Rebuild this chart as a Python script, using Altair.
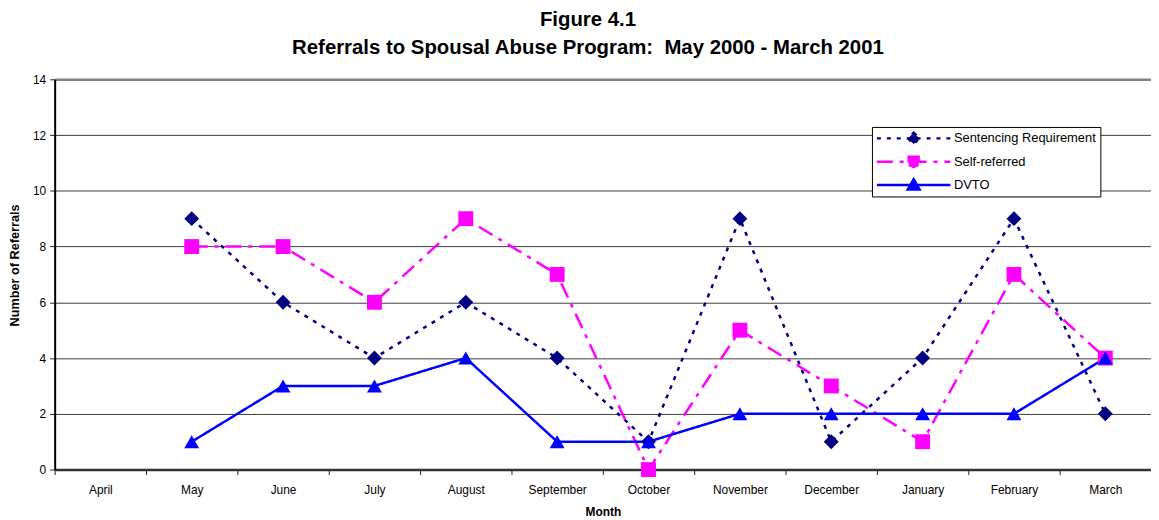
import altair as alt
import pandas as pd

months = ["April", "May", "June", "July", "August", "September", "October",
          "November", "December", "January", "February", "March"]
data_months = months[1:]
series_names = ["Sentencing Requirement", "Self-referred", "DVTO"]
sentencing = [9, 6, 4, 6, 4, 1, 9, 1, 4, 9, 2]
self_referred = [8, 8, 6, 9, 7, 0, 5, 3, 1, 7, 4]
dvto = [1, 3, 3, 4, 1, 1, 2, 2, 2, 2, 4]
y_ticks = [0, 2, 4, 6, 8, 10, 12, 14]

colors = ["#000080", "#FF00FF", "#0000FF"]
dashes = [[4, 6], [16, 7, 4, 7], [1, 0]]
marker_shapes = ["diamond", "square", "triangle-up"]
legend_shapes = [
    "M-1,0H1M0,-0.155L0.155,0L0,0.155L-0.155,0Z",
    "M-1,0H1M-0.135,-0.135H0.135V0.135H-0.135Z",
    "M-1,0H1M0,-0.16L0.16,0.12H-0.16Z",
]

rows = []
for name, vals in zip(series_names, [sentencing, self_referred, dvto]):
    for m, v in zip(data_months, vals):
        rows.append({"Month": m, "Referrals": v, "Series": name})
df = pd.DataFrame(rows)

FONT = "Liberation Sans"
W, H = 1104, 393


def lit(v):
    return "'%s'" % v if isinstance(v, str) else str(v)


def by_series(values, fallback):
    # legend entries carry the series name in datum.value; data marks do not
    expr = lit(fallback)
    for name, v in reversed(list(zip(series_names, values))):
        expr = "datum.value === '%s' ? %s : (%s)" % (name, lit(v), expr)
    return {"expr": expr}


x_enc = alt.X(
    "Month:N",
    sort=months,
    bandPosition=0.5,
    scale=alt.Scale(type="band", domain=months, paddingInner=0, paddingOuter=0),
    axis=alt.Axis(
        title="Month", tickBand="extent", labelAngle=0, labelFontSize=12,
        labelFont=FONT, labelColor="black", labelPadding=10,
        tickSize=5, tickColor="#222", tickWidth=1,
        domainColor="#333", domainWidth=2.5,
        titleFont=FONT, titleFontSize=12, titleFontWeight="bold",
        titleColor="black", titlePadding=11, grid=False,
    ),
)
y_enc = alt.Y(
    "Referrals:Q",
    scale=alt.Scale(domain=[0, 14], nice=False, zero=True),
    axis=alt.Axis(
        title="Number of Referrals", values=y_ticks, format="d",
        labelFontSize=12, labelFont=FONT, labelColor="black", labelPadding=4,
        tickSize=5, tickColor="#222", tickWidth=1,
        domainColor="black", domainWidth=2,
        titleFont=FONT, titleFontSize=12.8, titleFontWeight="bold",
        titleColor="black", titleX=-40, titleY=187, titleBaseline="middle",
        titleAngle=270, titleAlign="center",
        grid=True,
        gridColor={"condition": {"test": "datum.value == 14", "value": "#808080"}, "value": "#404040"},
        gridWidth={"condition": {"test": "datum.value == 14", "value": 2.5}, "value": 1},
    ),
)

color_scale = alt.Scale(domain=series_names, range=colors)

lines = alt.Chart(df).mark_line(strokeWidth=2.5).encode(
    x=x_enc,
    y=y_enc,
    color=alt.Color("Series:N", scale=color_scale, legend=None),
    strokeDash=alt.StrokeDash("Series:N", scale=alt.Scale(domain=series_names, range=dashes), legend=None),
    detail="Series:N",
)

points = alt.Chart(df).mark_point(filled=True, size=225, opacity=1).encode(
    x=x_enc,
    y=y_enc,
    color=alt.Color("Series:N", scale=color_scale, legend=None),
    shape=alt.Shape("Series:N", scale=alt.Scale(domain=series_names, range=marker_shapes), legend=None),
    order=alt.Order("order:Q"),
).transform_calculate(order="indexof(['Sentencing Requirement','Self-referred','DVTO'], datum.Series)")

leg = alt.Legend(
    title=None, orient="none", legendX=823, legendY=48,
    symbolSize=5476, symbolStrokeWidth=2.5, symbolOpacity=1,
    symbolDash=by_series(dashes, [1, 0]),
    clipHeight=16, rowPadding=7.5, padding=3.5, labelOffset=2,
    labelFont=FONT, labelFontSize=13, labelColor="black",
    strokeColor="black", fillColor="white",
)
legend_layer = alt.Chart(df).mark_point(
    filled=True, strokeWidth=2.5,
    fill=by_series(colors, "transparent"),
    stroke=by_series(colors, "transparent"),
).encode(
    x=x_enc,
    y=y_enc,
    shape=alt.Shape("Series:N", scale=alt.Scale(domain=series_names, range=legend_shapes), legend=leg),
)

chart = alt.layer(lines, points, legend_layer).resolve_scale(
    shape="independent"
).properties(
    width=W, height=H,
    title=alt.TitleParams(
        text=["Figure 4.1", "Referrals to Spousal Abuse Program:\u00a0 May 2000 - March 2001"],
        font=FONT, fontSize=20.5, fontWeight="bold", color="black",
        lineHeight=28, anchor="middle", frame="group", dx=-15, offset=15,
    ),
    padding={"left": 47, "top": 70, "right": 0, "bottom": 48},
    autosize=alt.AutoSizeParams(type="none"),
).configure_view(stroke=None)

chart.save("out.html", embed_options={"renderer": "svg", "actions": False})
